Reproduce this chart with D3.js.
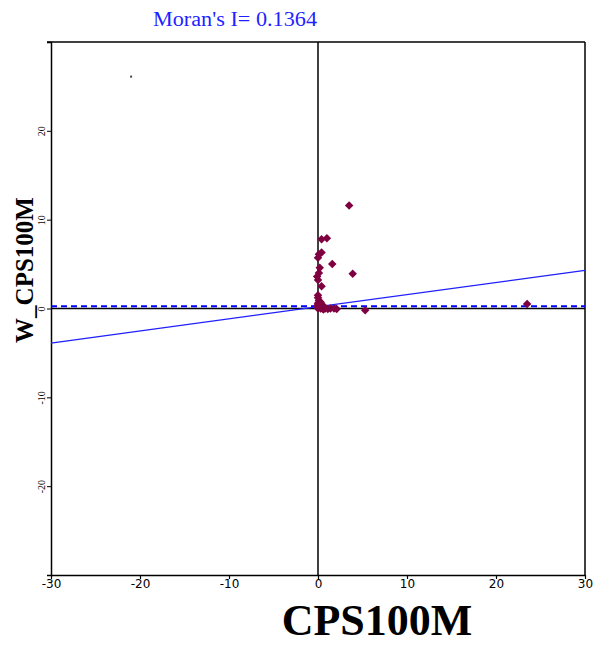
<!DOCTYPE html>
<html><head><meta charset="utf-8">
<script src="https://cdn.jsdelivr.net/npm/d3@7"></script>
<style>body{margin:0;background:#fff}</style>
</head><body>
<script>
// Data
const xValues = [3.5, 0.4, 1.0, 0.1, 0.4, 0.0, 0.2, 1.6, 3.9, -0.1, 0.0, 0.4, 0.1,
  0.0, 0.1, 0.0, 0.2, 0.1, 0.3, 0.5, 0.0, -0.1, 0.6, 0.8, 1.1, 1.4, 1.8, 2.1, 5.3, 23.5,
  0.3, 0.2, 0.6, 0.0];
const yValues = [11.6, 7.8, 7.9, 6.1, 6.3, 5.7, 4.6, 5.0, 3.9, 3.6, 3.2, 2.5, 4.0,
  1.2, 0.9, 0.6, 0.4, 0.2, 0.0, 0.1, 0.0, 0.3, -0.1, 0.0, -0.05, 0.0, 0.0, -0.05, -0.2, 0.5,
  0.7, 0.3, 0.3, 1.5];
const strayPoint = [-21.0, 26.1];
const xTicks = [-30, -20, -10, 0, 10, 20, 30];
const yTicks = [-20, -10, 0, 10, 20];
const moransI = 0.1364;
const regIntercept = 0.2;
const meanLag = 0.25;
const title = "Moran's I= 0.1364";
const xTitle = "CPS100M";
const yTitle = "W_CPS100M";

const W = 602, H = 648;
const svg = d3.select("body").append("svg").attr("width", W).attr("height", H);

const x = d3.scaleLinear().domain([-30, 30]).range([51, 585]);
const y = d3.scaleLinear().domain([-30, 30]).range([575, 42]);

// frame
const frame = svg.append("g").attr("stroke", "#000").attr("stroke-width", 1.5).attr("fill", "none");
frame.append("line").attr("x1", x(-30) - 4).attr("x2", x(30)).attr("y1", y(30)).attr("y2", y(30));
frame.append("line").attr("x1", x(30)).attr("x2", x(30)).attr("y1", y(30)).attr("y2", y(-30));

// axes
const xAxis = d3.axisBottom(x).tickValues(xTicks).tickSize(4).tickSizeOuter(0).tickFormat(d => String(d));
const gx = svg.append("g").attr("transform", `translate(0,${y(-30)})`).call(xAxis);
gx.select(".domain").attr("stroke-width", 1.5);
gx.selectAll(".tick line").attr("stroke-width", 1.2);
gx.selectAll(".tick text").attr("font-family", "DejaVu Sans, sans-serif")
  .attr("font-size", 12).attr("fill", "#000").attr("dy", "0.5em");

const yAxis = d3.axisLeft(y).tickValues(yTicks).tickSize(4).tickSizeOuter(4).tickFormat(d => String(d));
const gy = svg.append("g").attr("transform", `translate(${x(-30)},0)`).call(yAxis);
gy.select(".domain").attr("stroke-width", 1.5);
gy.selectAll(".tick text").attr("font-family", "Liberation Serif, serif")
  .attr("font-size", 10).attr("fill", "#000")
  .attr("text-anchor", "middle").attr("dy", 0)
  .attr("transform", "translate(-4,0) rotate(-90)").attr("x", 0).attr("y", -2);

// quadrant lines
svg.append("line").attr("x1", x(0)).attr("x2", x(0)).attr("y1", y(30)).attr("y2", y(-30))
  .attr("stroke", "#000").attr("stroke-width", 1.5);
svg.append("line").attr("x1", x(-30)).attr("x2", x(30)).attr("y1", y(0)).attr("y2", y(0))
  .attr("stroke", "#000").attr("stroke-width", 1.5);

// mean lag dashed
svg.append("line").attr("x1", x(-30)).attr("x2", x(30)).attr("y1", y(meanLag)).attr("y2", y(meanLag))
  .attr("stroke", "#0000ff").attr("stroke-width", 2).attr("stroke-dasharray", "6,4");

// regression line
svg.append("line").attr("x1", x(-30)).attr("x2", x(30))
  .attr("y1", y(regIntercept + moransI * -30)).attr("y2", y(regIntercept + moransI * 30))
  .attr("stroke", "#1f1fff").attr("stroke-width", 1.3);

// points
const pts = xValues.map((v, i) => [v, yValues[i]]);
svg.append("g").selectAll("path").data(pts).join("path")
  .attr("d", d3.symbol(d3.symbolDiamond2, 46))
  .attr("transform", d => `translate(${x(d[0])},${y(d[1])})`)
  .attr("fill", "#7f0040");

svg.append("rect").attr("x", x(strayPoint[0]) - 1).attr("y", y(strayPoint[1]) - 1)
  .attr("width", 2).attr("height", 2).attr("fill", "#444");

// titles
svg.append("text").attr("x", 235).attr("y", 26).attr("text-anchor", "middle")
  .attr("font-family", "Liberation Serif, serif").attr("font-size", 20).attr("fill", "#1f1fff")
  .attr("textLength", 164).attr("lengthAdjust", "spacingAndGlyphs")
  .text(title);
svg.append("text").attr("x", 377).attr("y", 635).attr("text-anchor", "middle")
  .attr("font-family", "Liberation Serif, serif").attr("font-weight", "bold").attr("font-size", 44)
  .attr("fill", "#000").text(xTitle);
svg.append("text").attr("transform", "translate(33,270) rotate(-90)").attr("text-anchor", "middle")
  .attr("font-family", "Liberation Serif, serif").attr("font-weight", "bold").attr("font-size", 25)
  .attr("fill", "#000").text(yTitle);
</script>
</body></html>
